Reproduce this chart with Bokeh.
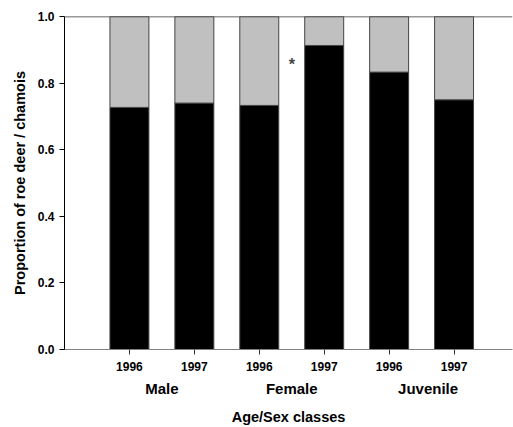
from bokeh.plotting import figure
from bokeh.models import (ColumnDataSource, Range1d, LinearAxis, FixedTicker,
                          Span, Label, NumeralTickFormatter)
from bokeh.embed import file_html
from bokeh.resources import INLINE

# ---- data ----
positions = [1, 2, 3, 4, 5, 6]
years = ["1996", "1997", "1996", "1997", "1996", "1997"]
groups = ["Male", "Female", "Juvenile"]
group_pos = [1.5, 3.5, 5.6]
roe_deer = [0.727, 0.740, 0.733, 0.913, 0.833, 0.750]
chamois = [round(1 - v, 3) for v in roe_deer]
star_x = [3.5]
star_y = [0.856]

FONT = "Liberation Sans"

src = ColumnDataSource(dict(x=positions, roe=roe_deer, cham=chamois))

p = figure(width=513, height=427, output_backend="svg", toolbar_location=None,
           x_range=Range1d(0, 6.9), y_range=Range1d(0, 1.0),
           min_border_left=64, min_border_top=16, min_border_right=1,
           min_border_bottom=78, x_axis_location=None, y_axis_location=None)
p.background_fill_color = "white"
p.border_fill_color = "white"
p.outline_line_color = None
p.xgrid.visible = False
p.ygrid.visible = False

p.vbar_stack(["roe", "cham"], x="x", width=0.6, source=src,
             fill_color=["black", "#c0c0c0"], line_color="#444444", line_width=1)

# y axis
ya = LinearAxis(ticker=FixedTicker(ticks=[0, 0.2, 0.4, 0.6, 0.8, 1.0]),
                formatter=NumeralTickFormatter(format="0.0"),
                axis_label="Proportion of roe deer / chamois")
ya.axis_line_color = "black"
ya.major_tick_line_color = "black"
ya.major_tick_in = 0
ya.major_tick_out = 5
ya.minor_tick_line_color = None
ya.major_label_text_font = FONT
ya.major_label_text_font_style = "bold"
ya.major_label_text_font_size = "12px"
ya.major_label_text_color = "black"
ya.major_label_standoff = 5
ya.axis_label_text_font = FONT
ya.axis_label_text_font_style = "bold"
ya.axis_label_text_font_size = "14.5px"
ya.axis_label_text_color = "black"
ya.axis_label_standoff = 7
p.add_layout(ya, "left")

# x axis (years)
xa = LinearAxis(ticker=FixedTicker(ticks=positions),
                major_label_overrides={pos: y for pos, y in zip(positions, years)})
xa.axis_line_color = "#808080"
xa.major_tick_line_color = "#333333"
xa.major_tick_in = 0
xa.major_tick_out = 5
xa.minor_tick_line_color = None
xa.major_label_text_font = FONT
xa.major_label_text_font_style = "bold"
xa.major_label_text_font_size = "12px"
xa.major_label_text_color = "black"
xa.major_label_standoff = 7
p.add_layout(xa, "below")

# group axis
ga = LinearAxis(ticker=FixedTicker(ticks=group_pos),
                major_label_overrides={pos: g for pos, g in zip(group_pos, groups)},
                axis_label="Age/Sex classes")
ga.axis_line_color = None
ga.major_tick_line_color = None
ga.minor_tick_line_color = None
ga.major_label_text_font = FONT
ga.major_label_text_font_style = "bold"
ga.major_label_text_font_size = "15px"
ga.major_label_text_color = "black"
ga.major_label_standoff = 0
ga.axis_label_text_font = FONT
ga.axis_label_text_font_style = "bold"
ga.axis_label_text_font_size = "14.5px"
ga.axis_label_text_color = "black"
ga.axis_label_standoff = 9
p.add_layout(ga, "below")

# top frame line
p.add_layout(Span(location=1.0, dimension="width", line_color="#333333", line_width=1.5))

# significance star
for sx, sy in zip(star_x, star_y):
    p.add_layout(Label(x=sx, y=sy, text="*", text_font=FONT, text_font_style="bold",
                       text_font_size="16px", text_align="center", text_baseline="middle"))

open("out.html", "w").write(file_html(p, INLINE))
